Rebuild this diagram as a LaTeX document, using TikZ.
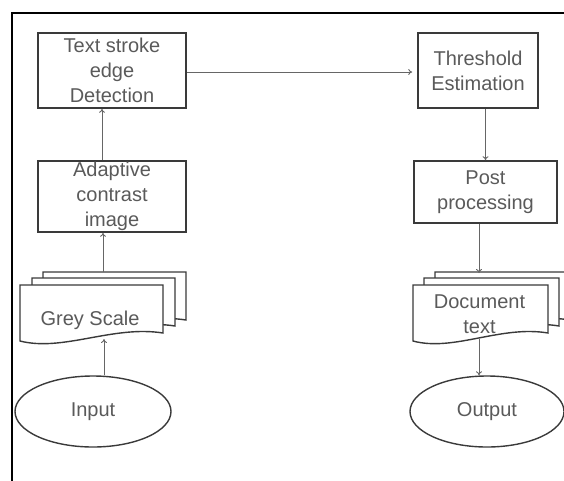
\documentclass[tikz,border=0pt]{standalone}
\usepackage{fontspec}
\setmainfont{Liberation Sans}
\usepackage{xcolor}
\usepackage{tikz}
\usetikzlibrary{shapes.geometric, arrows.meta, positioning, calc}

\definecolor{boxline}{HTML}{3A3A3A}
\definecolor{flowline}{HTML}{666666}
\definecolor{labeltext}{HTML}{5A5A5A}

\tikzset{
  lbl/.style={font=\fontsize{20}{25}\selectfont, text=labeltext, align=center},
  stage/.style={lbl, draw=boxline, line width=1.6pt, inner sep=0pt},
  terminal/.style={lbl, ellipse, draw=boxline, line width=1.4pt, inner sep=0pt},
  sheet/.style={draw=boxline, fill=white, line width=1.4pt},
  flow/.style={draw=flowline, line width=0.9pt, -{To[length=4pt,width=6pt]}}
}

% one page of a document stack: left, top, width
\newcommand{\docsheet}[3]{%
  \filldraw[sheet, shift={(#1,#2)}] (0,0) -- (#3,0) -- (#3,48)
    .. controls (0.65*#3,40) and (0.3*#3,67) .. (0,56) -- cycle;}

\begin{document}
\begin{tikzpicture}[x=1pt, y=-1pt]
  \useasboundingbox (0,0) rectangle (564,480);
  \clip (0,0) rectangle (564,480);

  % outer frame
  \draw[line width=2.5pt] (12,490) -- (12,13) -- (575,13);

  % left column
  \node[stage, minimum width=148pt, minimum height=75pt] (edge) at (112,70.5)
    {Text stroke\\edge\\Detection};
  \node[stage, minimum width=148pt, minimum height=71pt] (adapt) at (112,196.5)
    {Adaptive\\contrast\\image};

  % grey scale stack
  \docsheet{43}{272}{143}
  \docsheet{32}{278}{143}
  \docsheet{20}{285}{143}
  \node[lbl] (grey) at (90,320) {Grey Scale};
  \coordinate (grey-top) at (103,272);
  \coordinate (grey-bot) at (104,339);

  \node[terminal, minimum width=156pt, minimum height=71pt] (in) at (93,411.5) {Input};

  % right column
  \node[stage, minimum width=120pt, minimum height=75pt] (thr) at (478,70.5)
    {Threshold\\Estimation};
  \node[stage, minimum width=143pt, minimum height=62pt] (post) at (485.5,192)
    {Post\\processing};

  % document text stack
  \docsheet{435}{272}{135}
  \docsheet{424}{278}{135}
  \docsheet{413}{285}{135}
  \node[lbl] (doc) at (479.5,314.5) {Document\\text};
  \coordinate (doc-top) at (479,273);
  \coordinate (doc-bot) at (479,339);

  \node[terminal, minimum width=154pt, minimum height=71pt] (out) at (487,411.5) {Output};

  % connectors
  \draw[flow] (in.north -| grey-bot) -- (grey-bot);
  \draw[flow] (grey-top) -- (grey-top |- adapt.south);
  \draw[flow] ([xshift=-10pt]adapt.north) -- ([xshift=-10pt]edge.south);
  \draw[flow, shorten >=5pt] ([yshift=-1.5pt]edge.east) -- ([yshift=-1.5pt]edge.east -| thr.west);
  \draw[flow] (thr.south -| post.north) -- (post.north);
  \draw[flow] (post.south -| doc-top) -- (doc-top);
  \draw[flow] (doc-bot) -- (doc-bot |- out.north);
\end{tikzpicture}
\end{document}
